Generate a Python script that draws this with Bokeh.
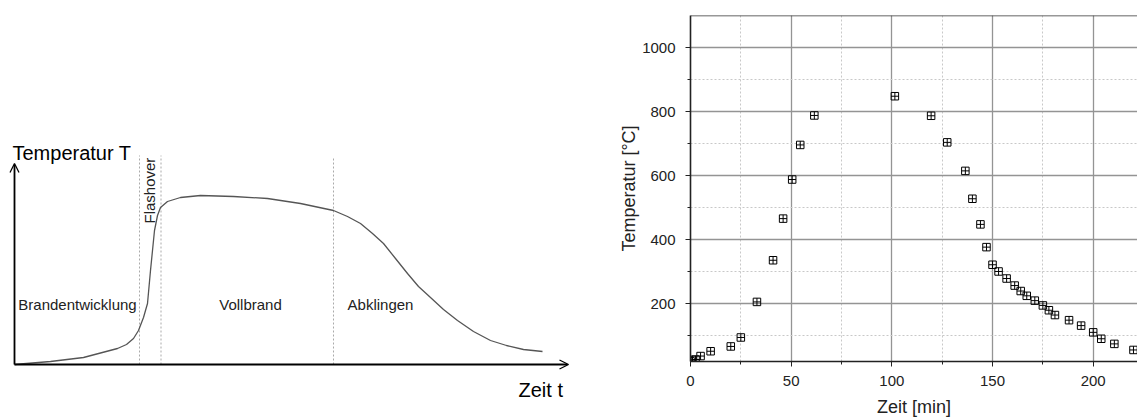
import math
from bokeh.plotting import figure
from bokeh.layouts import row, column
from bokeh.models import Range1d, Arrow, OpenHead, Span, Label, SingleIntervalTicker, FixedTicker
from bokeh.embed import file_html
from bokeh.resources import INLINE

# ---------------- schematic fire curve (left) ----------------
curve_t = [0, 18, 36, 69, 103, 112, 119, 124, 129, 133, 136, 138, 140, 143, 146,
           153, 166, 186, 219, 253, 286, 319, 333, 346, 358, 369, 381, 393, 404,
           416, 429, 443, 459, 476, 492, 509, 528]
curve_T = [0, 1.5, 3, 7, 16, 20, 26, 34, 47, 61, 94, 114, 134, 149, 157,
           163, 167, 169, 168, 166, 161, 154, 148, 141, 131, 121, 106, 91, 78,
           67, 55, 44, 33, 24, 19, 15, 13]
phase_bounds = [125, 146.5, 319]
phase_tops = [209, 209, 208]
phase_names = ["Brandentwicklung", "Vollbrand", "Abklingen"]
phase_label_t = [63, 236, 366]
flashover_label = "Flashover"
schem_y_label = "Temperatur T"
schem_x_label = "Zeit t"

# ---------------- measured fire (right) ----------------
time_min = [0, 1, 2.5, 5, 10, 20, 25, 33, 41, 46, 50.5, 54.5, 61.5, 101.5, 119.5,
            127.5, 136.5, 140, 144, 147, 150, 153, 157, 161, 164, 167, 171, 175,
            178, 181, 188, 194, 200, 204, 210.5, 220]
temp_c = [21, 25, 26, 37, 52, 67, 95, 206, 336, 466, 588, 696, 788, 848, 787,
          704, 615, 528, 448, 377, 322, 301, 279, 257, 240, 225, 210, 195,
          180, 165, 149, 132, 111, 91, 75, 56]
y_major_ticks = [200, 400, 600, 800, 1000]
y_minor_ticks = [100, 300, 500, 700, 900]
x_label = "Zeit [min]"
y_label = "Temperatur [°C]"

FONT = "Liberation Sans"

# ---- left figure (frame = whole canvas) ----
p1 = figure(width=610, height=419, x_range=Range1d(-14, 596), y_range=Range1d(-55, 364),
            x_axis_type=None, y_axis_type=None, output_backend="svg", toolbar_location=None,
            min_border_left=0, min_border_right=0, min_border_top=0, min_border_bottom=0)
p1.grid.visible = False
p1.outline_line_color = None

p1.segment(x0=phase_bounds, y0=[0] * len(phase_bounds), x1=phase_bounds, y1=phase_tops,
           line_color="#aaaaaa", line_width=1, line_dash="2 2")
p1.line(curve_t, curve_T, line_color="#555555", line_width=1.3)

p1.add_layout(Arrow(end=OpenHead(size=9, line_width=1.3, line_color="black"),
                    x_start=0, y_start=0, x_end=0, y_end=201,
                    line_width=1.8, line_color="black"))
p1.add_layout(Arrow(end=OpenHead(size=9, line_width=1.3, line_color="black"),
                    x_start=0, y_start=0, x_end=554, y_end=0,
                    line_width=1.8, line_color="black"))

p1.add_layout(Label(x=-2, y=212, text=schem_y_label, text_font=FONT,
                    text_font_size="20px", text_color="black", text_align="left",
                    text_baseline="alphabetic"))
p1.add_layout(Label(x=504, y=-25, text=schem_x_label, text_font=FONT,
                    text_font_size="20px", text_color="black", text_align="left",
                    text_baseline="alphabetic"))
for name, tx in zip(phase_names, phase_label_t):
    p1.add_layout(Label(x=tx, y=60, text=name, text_font=FONT,
                        text_font_size="15px", text_color="#222222", text_align="center",
                        text_baseline="alphabetic"))
p1.add_layout(Label(x=134.5, y=141, text=flashover_label, text_font=FONT,
                    text_font_size="15px", text_color="#222222", text_align="left",
                    text_baseline="middle", angle=math.pi / 2))

# ---- right figure ----
p2 = figure(width=527, height=419, x_range=Range1d(0, 222), y_range=Range1d(20, 1100),
            output_backend="svg", toolbar_location=None,
            min_border_left=80, min_border_right=0, min_border_top=15, min_border_bottom=55)
p2.outline_line_color = None

p2.xaxis.ticker = SingleIntervalTicker(interval=50, num_minor_ticks=2)
p2.yaxis.ticker = FixedTicker(ticks=y_major_ticks, minor_ticks=y_minor_ticks)

for g in (p2.xgrid, p2.ygrid):
    g.grid_line_color = "#949494"
    g.grid_line_width = 1.3
    g.minor_grid_line_color = "#c8c8c8"
    g.minor_grid_line_dash = "2 2"
    g.minor_grid_line_width = 1

for ax in (p2.xaxis, p2.yaxis):
    ax.axis_line_color = "#222222"
    ax.axis_line_width = 1.6
    ax.major_tick_line_color = "#222222"
    ax.minor_tick_line_color = "#222222"
    ax.major_tick_in = 0
    ax.major_tick_out = 5
    ax.minor_tick_in = 0
    ax.minor_tick_out = 3
    ax.major_label_text_font = FONT
    ax.major_label_text_font_size = "15px"
    ax.major_label_text_color = "#222222"
    ax.axis_label_text_font = FONT
    ax.axis_label_text_font_size = "18px"
    ax.axis_label_text_font_style = "normal"
    ax.axis_label_text_color = "#222222"

p2.xaxis.axis_label = x_label
p2.yaxis.axis_label = y_label
p2.xaxis.major_label_standoff = 9
p2.xaxis.axis_label_standoff = 8
p2.yaxis.major_label_standoff = 10
p2.yaxis.axis_label_standoff = 0

p2.add_layout(Span(location=1100, dimension="width", line_color="#333333", line_width=1.6))

p2.scatter(time_min, temp_c, marker="square_cross", size=7.5, line_color="black",
           fill_color=None, line_width=1)

layout = row(column(p1), p2)
open("out.html", "w").write(file_html(layout, INLINE))
